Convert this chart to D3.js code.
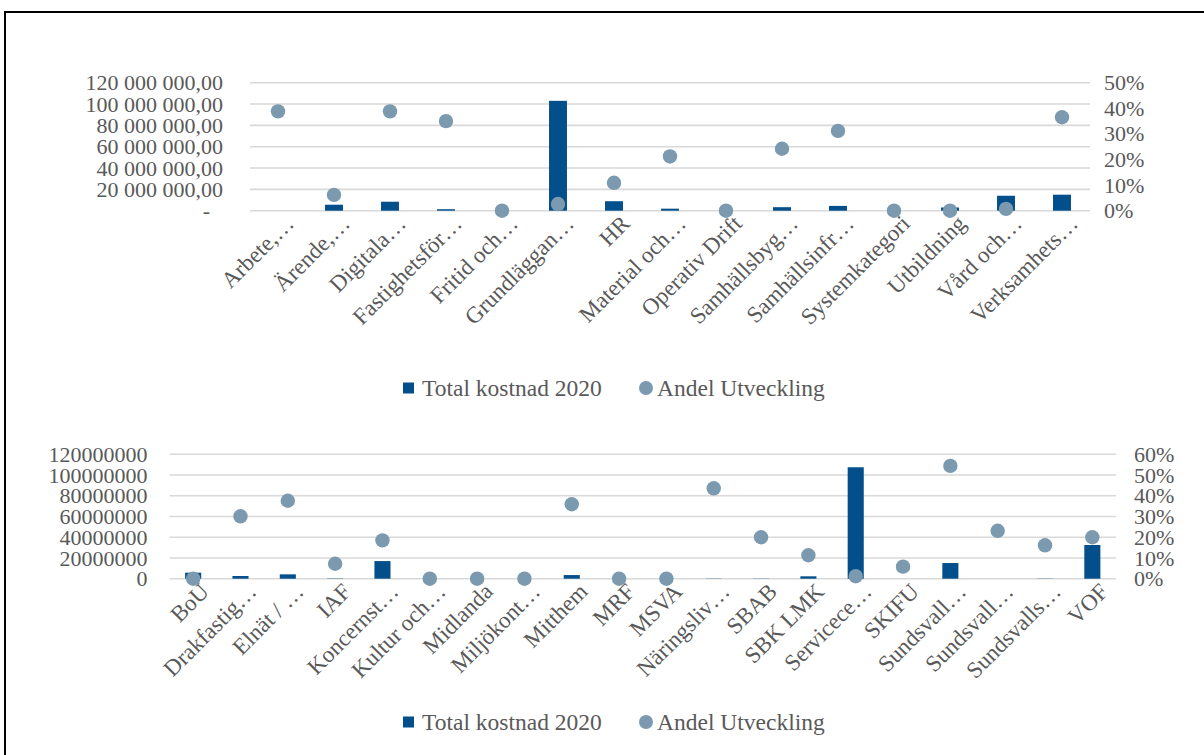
<!DOCTYPE html>
<html>
<head>
<meta charset="utf-8">
<script src="https://cdn.jsdelivr.net/npm/d3@7"></script>
<style>
  html, body { margin: 0; padding: 0; background: #fff; }
  svg { display: block; }
  text { font-family: "Liberation Serif", "Times New Roman", serif; fill: #595959; }
</style>
</head>
<body>
<svg id="chart" width="1204" height="755"></svg>
<script>
// ---- Chart 1: cost and development share per system category ----
const catsTop = ["Arbete,…", "Ärende,…", "Digitala…", "Fastighetsför…", "Fritid och…", "Grundläggan…", "HR",
  "Material och…", "Operativ Drift", "Samhällsbyg…", "Samhällsinfr…", "Systemkategori", "Utbildning", "Vård och…", "Verksamhets…"];
const costTop = [0, 5600000, 8400000, 1400000, 0, 103000000, 8900000, 1900000, 0, 3300000, 4500000, 0, 3000000, 14000000, 15000000];
const shareTop = [0.388, 0.062, 0.388, 0.350, 0.0, 0.026, 0.109, 0.212, 0.0, 0.242, 0.312, 0.0, 0.0, 0.007, 0.365];
const leftTicksTop = [0, 20000000, 40000000, 60000000, 80000000, 100000000, 120000000];
const rightTicksTop = [0, 0.1, 0.2, 0.3, 0.4, 0.5];

// ---- Chart 2: cost and development share per organisation ----
const catsBottom = ["BoU", "Drakfastig…", "Elnät / …", "IAF", "Koncernst…", "Kultur och…", "Midlanda", "Miljökont…",
  "Mitthem", "MRF", "MSVA", "Näringsliv…", "SBAB", "SBK LMK", "Servicece…", "SKIFU", "Sundsvall…", "Sundsvall…",
  "Sundsvalls…", "VOF"];
const costBottom = [5800000, 2600000, 4200000, 300000, 17000000, 0, 0, 0, 3500000, 0, 0, 200000, 200000, 2300000,
  107500000, 0, 15100000, 0, 200000, 32500000];
const shareBottom = [0.0, 0.301, 0.376, 0.072, 0.185, 0.0, 0.0, 0.0, 0.359, 0.0, 0.0, 0.436, 0.200, 0.113, 0.012,
  0.058, 0.544, 0.231, 0.161, 0.200];
const leftTicksBottom = [0, 20000000, 40000000, 60000000, 80000000, 100000000, 120000000];
const rightTicksBottom = [0, 0.1, 0.2, 0.3, 0.4, 0.5, 0.6];

const seriesNames = ["Total kostnad 2020", "Andel Utveckling"];

const BAR = "#034f8b";
const DOT = "#7b9ab0";
const GRID = "#d9d9d9";

const svg = d3.select("#chart");

// Frame around the figure
svg.append("path")
  .attr("d", "M5,755 V12 H1204")
  .attr("fill", "none").attr("stroke", "#000").attr("stroke-width", 2);

const sv = d3.formatLocale({ decimal: ",", thousands: "\u00a0", grouping: [3], currency: ["", ""] });
const fmtTopLeft = v => v === 0 ? "-" : sv.format(",.2f")(v);
const fmtBottomLeft = d3.format("d");
const fmtPct = d3.format(".0%");

function drawChart(cfg) {
  const g = svg.append("g");
  const x = d3.scaleBand().domain(d3.range(cfg.cats.length)).range([cfg.x0, cfg.x1]).padding(0);
  const yL = d3.scaleLinear().domain([0, cfg.maxL]).range([cfg.y0, cfg.y1]);
  const yR = d3.scaleLinear().domain([0, cfg.maxR]).range([cfg.y0, cfg.y1]);

  // horizontal gridlines
  g.append("g").selectAll("line").data(cfg.leftTicks).join("line")
    .attr("x1", cfg.x0).attr("x2", cfg.x1)
    .attr("y1", d => yL(d)).attr("y2", d => yL(d))
    .attr("stroke", GRID).attr("stroke-width", 1.6);

  // left axis
  const axL = g.append("g").attr("transform", `translate(${cfg.x0 - cfg.gapL},0)`)
    .call(d3.axisLeft(yL).tickValues(cfg.leftTicks).tickFormat(cfg.fmtL).tickSize(0).tickPadding(0));
  axL.select(".domain").remove();
  axL.selectAll("text").attr("font-size", 22).attr("fill", "#595959")
    .style("font-family", "'Liberation Serif', serif");
  if (cfg.zeroDash) axL.selectAll(".tick").filter(d => d === 0).select("text").attr("dx", -13);

  // right axis
  const axR = g.append("g").attr("transform", `translate(${cfg.x1 + cfg.gapR},0)`)
    .call(d3.axisRight(yR).tickValues(cfg.rightTicks).tickFormat(fmtPct).tickSize(0).tickPadding(0));
  axR.select(".domain").remove();
  axR.selectAll("text").attr("font-size", 22).attr("fill", "#595959")
    .style("font-family", "'Liberation Serif', serif");

  // bars
  const bw = x.bandwidth() * cfg.barFrac;
  g.append("g").selectAll("rect").data(cfg.cost).join("rect")
    .attr("x", (d, i) => x(i) + x.bandwidth() / 2 - bw / 2)
    .attr("width", bw)
    .attr("y", d => yL(d))
    .attr("height", d => yL(0) - yL(d))
    .attr("fill", BAR);

  // markers
  g.append("g").selectAll("circle").data(cfg.share).join("circle")
    .attr("cx", (d, i) => x(i) + x.bandwidth() / 2)
    .attr("cy", d => yR(d))
    .attr("r", 7.2)
    .attr("fill", DOT);

  // category labels, rotated
  g.append("g").selectAll("text").data(cfg.cats).join("text")
    .attr("transform", (d, i) => `translate(${x(i) + x.bandwidth() / 2 + 5},${cfg.y0 + 2}) rotate(-45)`)
    .attr("text-anchor", "end")
    .attr("dy", "0.75em")
    .attr("font-size", 23)
    .text(d => d);

  // legend
  const lg = g.append("g").attr("transform", `translate(0,${cfg.legendY})`);
  lg.append("rect").attr("x", 403).attr("y", -5.5).attr("width", 11).attr("height", 11).attr("fill", BAR);
  lg.append("text").attr("x", 422).attr("y", 0).attr("dy", "0.35em").attr("font-size", 23.5).text(seriesNames[0]);
  lg.append("circle").attr("cx", 646).attr("cy", 0).attr("r", 7).attr("fill", DOT);
  lg.append("text").attr("x", 657).attr("y", 0).attr("dy", "0.35em").attr("font-size", 23.5).text(seriesNames[1]);
}

drawChart({
  cats: catsTop, cost: costTop, share: shareTop,
  leftTicks: leftTicksTop, rightTicks: rightTicksTop,
  maxL: 120000000, maxR: 0.5,
  x0: 250, x1: 1090, y0: 210.7, y1: 82.7,
  gapL: 27, gapR: 14, fmtL: fmtTopLeft, zeroDash: true,
  barFrac: 0.32, legendY: 388
});

drawChart({
  cats: catsBottom, cost: costBottom, share: shareBottom,
  leftTicks: leftTicksBottom, rightTicks: rightTicksBottom,
  maxL: 120000000, maxR: 0.6,
  x0: 169.5, x1: 1116, y0: 578.7, y1: 454.3,
  gapL: 22, gapR: 18, fmtL: fmtBottomLeft, zeroDash: false,
  barFrac: 0.34, legendY: 722
});
</script>
</body>
</html>
